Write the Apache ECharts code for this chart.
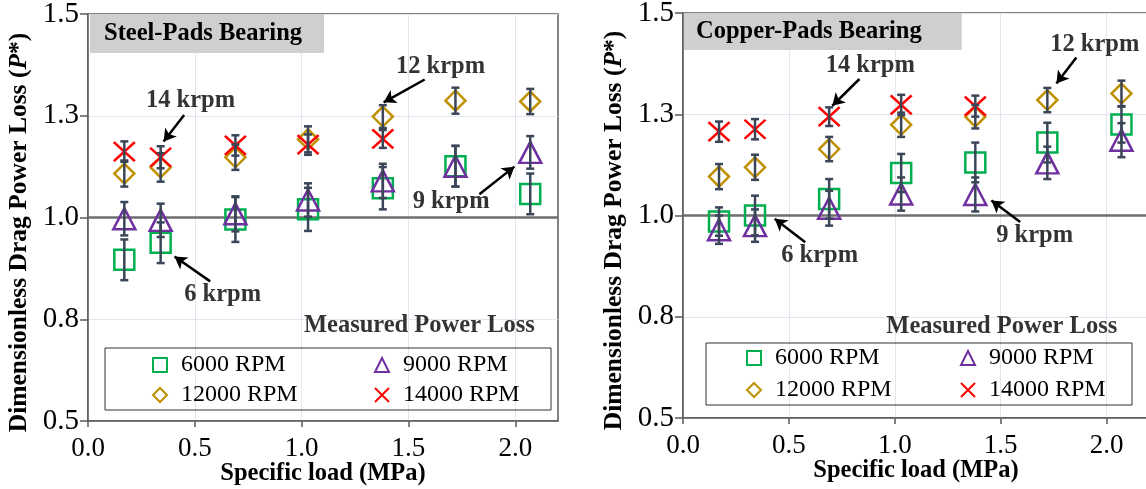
<!DOCTYPE html>
<html>
<head>
<meta charset="utf-8">
<script src="https://cdn.jsdelivr.net/npm/echarts@6/dist/echarts.min.js"></script>
<style>
  html, body { margin: 0; padding: 0; background: #ffffff; }
  #chart { width: 1146px; height: 489px; }
</style>
</head>
<body>
<div id="chart"></div>
<script>
// Specific load (MPa) of each test point
const loads = [0.17, 0.34, 0.69, 1.03, 1.38, 1.72, 2.07];
const speedNames = ['6000 RPM', '9000 RPM', '12000 RPM', '14000 RPM'];

// Axis ticks
const xTickValues = [0, 0.5, 1.0, 1.5, 2.0];
const xTickLabels = ['0.0', '0.5', '1.0', '1.5', '2.0'];
const yTickValues = [0.5, 0.75, 1.0, 1.25, 1.5];
const yTickLabels = ['0.5', '0.8', '1.0', '1.3', '1.5'];

// Steel-pads bearing: dimensionless drag power loss and its uncertainty
const steel6000 = [0.896, 0.938, 0.995, 1.020, 1.072, 1.126, 1.058];
const steel6000Err = [0.050, 0.050, 0.055, 0.053, 0.052, 0.050, 0.050];
const steel9000 = [0.997, 0.993, 1.009, 1.043, 1.090, 1.126, 1.160];
const steel9000Err = [0.041, 0.041, 0.043, 0.041, 0.042, 0.050, 0.040];
const steel12000 = [1.108, 1.123, 1.148, 1.192, 1.248, 1.287, 1.285];
const steel12000Err = [0.032, 0.035, 0.031, 0.032, 0.028, 0.032, 0.031];
const steel14000 = [1.162, 1.148, 1.177, 1.179, 1.193];
const steel14000Err = [0.025, 0.027, 0.025, 0.025, 0.022];

// Copper-pads bearing
const copper6000 = [0.985, 1.000, 1.041, 1.105, 1.131, 1.180, 1.225];
const copper6000Err = [0.035, 0.049, 0.049, 0.047, 0.049, 0.049, 0.045];
const copper9000 = [0.965, 0.975, 1.018, 1.053, 1.052, 1.130, 1.186];
const copper9000Err = [0.035, 0.040, 0.043, 0.041, 0.042, 0.040, 0.042];
const copper12000 = [1.096, 1.119, 1.164, 1.224, 1.244, 1.285, 1.301];
const copper12000Err = [0.031, 0.031, 0.030, 0.030, 0.029, 0.030, 0.032];
const copper14000 = [1.207, 1.213, 1.244, 1.273, 1.270];
const copper14000Err = [0.025, 0.025, 0.023, 0.025, 0.026];

// Callout texts, their anchor points and arrows (load, P*)
const noteTexts = ['14 krpm', '12 krpm', '9 krpm', '6 krpm', 'Measured Power Loss'];
const steelNoteAt = [[0.48, 1.287], [1.65, 1.371], [1.70, 1.039], [0.63, 0.810], [1.551, 0.735]];
const steelArrows = [
  [[0.450, 1.252], [0.354, 1.187]],
  [[1.576, 1.339], [1.384, 1.283]],
  [[1.832, 1.057], [1.996, 1.125]],
  [[0.572, 0.843], [0.405, 0.904]]
];
const copperNoteAt = [[0.884, 1.371], [1.944, 1.423], [1.66, 0.951], [0.645, 0.901], [1.505, 0.725]];
const copperArrows = [
  [[0.833, 1.337], [0.705, 1.271]],
  [[1.857, 1.390], [1.763, 1.326]],
  [[1.592, 0.984], [1.456, 1.037]],
  [[0.577, 0.934], [0.433, 0.992]]
];

const FONT = 'Liberation Serif';
const BOLD_SIZE = 24.5;
const X_TICK_SIZE = 27;
const Y_TICK_SIZE = 29;
const colors = ['#00b050', '#7030a0', '#bf9000', '#ff0000'];
const shapes = ['rect', 'triangle', 'diamond', 'path://M0,0L20,20M20,0L0,20'];
const sizes = [[20, 20], [22, 21], [20, 20], [21, 19]];
const barColor = '#3a4558';

const panels = [
  {
    title: 'Steel-Pads Bearing',
    values: [steel6000, steel9000, steel12000, steel14000],
    errors: [steel6000Err, steel9000Err, steel12000Err, steel14000Err],
    noteAt: steelNoteAt, arrows: steelArrows
  },
  {
    title: 'Copper-Pads Bearing',
    values: [copper6000, copper9000, copper12000, copper14000],
    errors: [copper6000Err, copper9000Err, copper12000Err, copper14000Err],
    noteAt: copperNoteAt, arrows: copperArrows
  }
];

// Vertical error bar with end caps
function errorBarItem(params, api) {
  const x = api.value(0), y = api.value(1), e = api.value(2);
  const top = api.coord([x, y + e]);
  const bot = api.coord([x, y - e]);
  const cap = 4;
  const style = { stroke: barColor, lineWidth: 2.5 };
  return {
    type: 'group',
    children: [
      { type: 'line', shape: { x1: top[0], y1: top[1], x2: bot[0], y2: bot[1] }, style },
      { type: 'line', shape: { x1: top[0] - cap, y1: top[1], x2: top[0] + cap, y2: top[1] }, style },
      { type: 'line', shape: { x1: bot[0] - cap, y1: bot[1], x2: bot[0] + cap, y2: bot[1] }, style }
    ]
  };
}

const series = [];
panels.forEach((p, idx) => {
  const bars = [];
  speedNames.forEach((name, k) => {
    const vals = p.values[k];
    vals.forEach((v, i) => bars.push([loads[i], v, p.errors[k][i]]));
    const s = {
      type: 'scatter',
      name: name,
      xAxisIndex: idx,
      yAxisIndex: idx,
      data: vals.map((v, i) => [loads[i], v]),
      symbol: shapes[k],
      symbolSize: sizes[k],
      itemStyle: { color: 'rgba(0,0,0,0)', borderColor: colors[k], borderWidth: 2.5, opacity: 1 },
      z: 3
    };
    if (k === 0) {
      // reference level P* = 1
      s.markLine = {
        silent: true, z: 1, symbol: 'none', animation: false,
        label: { show: false },
        lineStyle: { color: '#6e6e6e', width: 2.5, type: 'solid' },
        data: [{ yAxis: 1.0 }]
      };
    }
    series.push(s);
  });
  series.push({
    type: 'custom',
    name: 'error',
    xAxisIndex: idx,
    yAxisIndex: idx,
    renderItem: errorBarItem,
    data: bars,
    z: 4
  });
  series.push({
    type: 'scatter',
    name: 'notes',
    xAxisIndex: idx,
    yAxisIndex: idx,
    silent: true,
    symbolSize: 1,
    itemStyle: { color: 'rgba(0,0,0,0)' },
    data: p.noteAt.map((c, i) => ({ name: noteTexts[i], value: c })),
    label: {
      show: true, position: 'inside', formatter: '{b}',
      fontFamily: FONT, fontWeight: 'bold', fontSize: BOLD_SIZE, color: '#000'
    },
    markLine: {
      silent: true, z: 5, animation: false,
      symbol: ['none', 'arrow'], symbolSize: [11, 12],
      label: { show: false },
      lineStyle: { color: '#000', width: 2.5, type: 'solid' },
      data: p.arrows.map(a => [{ coord: a[0] }, { coord: a[1] }])
    },
    z: 6
  });
});

function yLabel(v) {
  const i = yTickValues.findIndex(t => Math.abs(t - v) < 1e-6);
  return i >= 0 ? yTickLabels[i] : '';
}
function xLabel(v) {
  const i = xTickValues.findIndex(t => Math.abs(t - v) < 1e-6);
  return i >= 0 ? xTickLabels[i] : '';
}

const axisColor = '#595959';
const gridColor = '#e3e5ee';

function makeX(idx) {
  return {
    type: 'value', gridIndex: idx, min: 0, max: 2.2, interval: 0.5,
    name: 'Specific load (MPa)', nameLocation: 'middle', nameGap: 40, nameMoveOverlap: false,
    nameTextStyle: { fontFamily: FONT, fontWeight: 'bold', fontSize: BOLD_SIZE, color: '#000' },
    axisLine: { show: true, lineStyle: { color: axisColor, width: 1.5 } },
    axisTick: { show: true, length: 6, customValues: xTickValues, lineStyle: { color: axisColor, width: 1.5 } },
    axisLabel: { customValues: xTickValues, formatter: xLabel, margin: 14, fontFamily: FONT, fontSize: X_TICK_SIZE, color: '#000' },
    splitLine: { show: true, lineStyle: { color: gridColor, width: 1 } }
  };
}
function makeY(idx) {
  return {
    type: 'value', gridIndex: idx, min: 0.5, max: 1.5, interval: 0.25,
    name: 'Dimensionless Drag Power Loss ({i|P}*)', nameLocation: 'middle', nameGap: 56, nameMoveOverlap: false,
    nameTextStyle: {
      fontFamily: FONT, fontWeight: 'bold', fontSize: 25.5, color: '#000',
      padding: [0, 30, 0, 0],
      rich: { i: { fontFamily: FONT, fontWeight: 'bold', fontStyle: 'italic', fontSize: 25.5, color: '#000' } }
    },
    axisLine: { show: true, lineStyle: { color: axisColor, width: 1.5 } },
    axisTick: { show: true, length: 8, lineStyle: { color: axisColor, width: 1.5 } },
    axisLabel: { formatter: yLabel, margin: 9, fontFamily: FONT, fontSize: Y_TICK_SIZE, color: '#000' },
    splitLine: { show: true, lineStyle: { color: gridColor, width: 1 } }
  };
}

function makeLegend(box) {
  return {
    left: box.left, top: box.top, width: 420,
    orient: 'horizontal',
    itemWidth: 14, itemHeight: 14, itemGap: box.gap,
    padding: box.padding,
    borderColor: '#333', borderWidth: 1,
    textStyle: { fontFamily: FONT, fontSize: 24, color: '#000', lineHeight: 24, padding: [0, 0, 0, 9] },
    data: speedNames.map((n, k) => ({ name: n, textStyle: { width: k % 2 === 0 ? box.w1 : 118 } }))
  };
}

const chart = echarts.init(document.getElementById('chart'), null, { renderer: 'canvas' });
chart.setOption({
  animation: false,
  backgroundColor: '#ffffff',
  title: [
    {
      text: panels[0].title, left: 90, top: 14, backgroundColor: '#d0cece', padding: [7, 22, 7, 14],
      textStyle: { fontFamily: FONT, fontWeight: 'bold', fontSize: BOLD_SIZE, color: '#000', lineHeight: 25 }
    },
    {
      text: panels[1].title, left: 684, top: 13, backgroundColor: '#d0cece', padding: [6, 40, 6, 12],
      textStyle: { fontFamily: FONT, fontWeight: 'bold', fontSize: BOLD_SIZE, color: '#000', lineHeight: 25 }
    }
  ],
  legend: [
    makeLegend({ left: 105, top: 348, padding: [5, 30, 3, 47], gap: 6, w1: 187 }),
    makeLegend({ left: 706, top: 343, padding: [3, 25, 3, 40], gap: 8, w1: 177 })
  ],
  grid: [
    { left: 88, top: 14, width: 470, height: 407, outerBoundsMode: 'none', containLabel: false,
      show: true, borderColor: axisColor, borderWidth: 1.5 },
    { left: 683, top: 13, width: 466, height: 405, outerBoundsMode: 'none', containLabel: false,
      show: true, borderColor: axisColor, borderWidth: 1.5 }
  ],
  xAxis: [makeX(0), makeX(1)],
  yAxis: [makeY(0), makeY(1)],
  series: series
});
</script>
</body>
</html>
